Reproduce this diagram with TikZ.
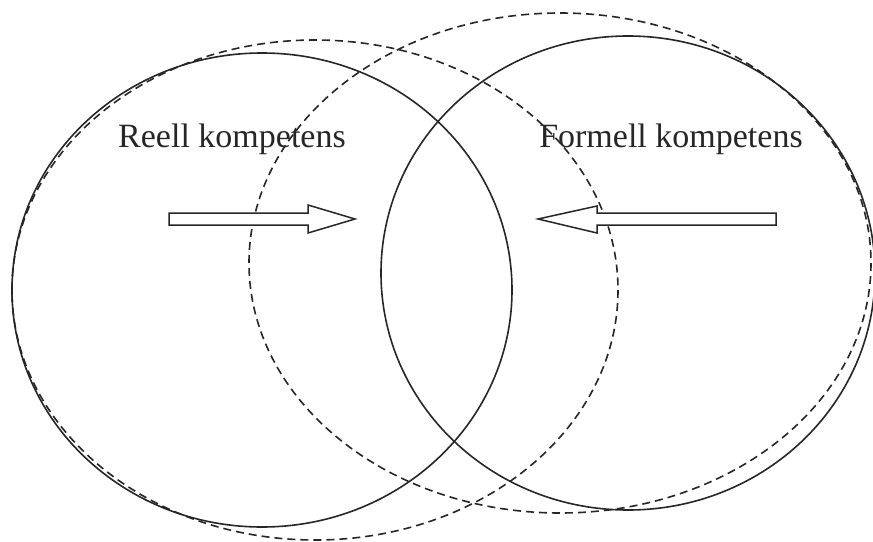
\documentclass[tikz,border=0pt]{standalone}
\usepackage{fontspec}
\setmainfont{Liberation Serif}
\begin{document}
\begin{tikzpicture}[x=1pt,y=-1pt,
  solidring/.style={line width=1.6pt,black!85},
  dashring/.style={line width=1.6pt,black!85,dash pattern=on 8pt off 5pt},
  fatarrow/.style={line width=1.5pt,black!85,fill=white,line join=miter},
  label/.style={inner sep=0pt,anchor=base,text=black!85,font=\fontsize{34}{40}\selectfont}]
\useasboundingbox (0,0) rectangle (873,541);
% dashed ellipses
\draw[dashring] (315,290) ellipse [x radius=303, y radius=250];
\draw[dashring] (560,263) ellipse [x radius=311, y radius=250];
% solid ellipses
\draw[solidring] (262,290) ellipse [x radius=250, y radius=237];
\draw[solidring] (628,273) ellipse [x radius=247, y radius=237];
% arrows
\draw[fatarrow] (169,213) -- (308,213) -- (308,205) -- (355,219) -- (308,233) -- (308,225) -- (169,225) -- cycle;
\draw[fatarrow] (776,213) -- (597,213) -- (597,206) -- (538,219) -- (597,233) -- (597,225) -- (776,225) -- cycle;
% labels
\node[label] (reell) at (232,147) {Reell kompetens};
\node[label] (formell) at (671,147) {Formell kompetens};
\end{tikzpicture}
\end{document}
